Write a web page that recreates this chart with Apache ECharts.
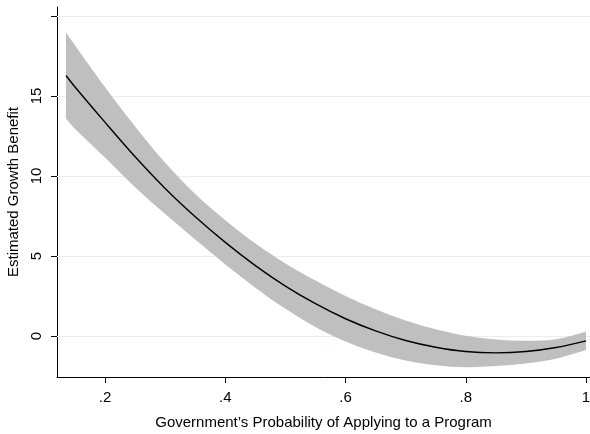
<!DOCTYPE html>
<html>
<head>
<meta charset="utf-8">
<script src="https://cdn.jsdelivr.net/npm/echarts@6/dist/echarts.min.js"></script>
<style>html,body{margin:0;padding:0;background:#fff}#c{width:590px;height:434px}</style>
</head>
<body>
<div id="c"></div>
<script>
var xs    = [0.135, 0.15, 0.2, 0.25, 0.3, 0.35, 0.4, 0.45, 0.5, 0.55, 0.6, 0.65, 0.7, 0.75, 0.8, 0.85, 0.9, 0.95, 1.0];
var fit   = [16.28, 15.56, 13.35, 11.2, 9.22, 7.45, 5.85, 4.4, 3.12, 2.02, 1.08, 0.32, -0.28, -0.7, -0.97, -1.05, -0.97, -0.72, -0.3];
var upper = [18.96, 18.16, 15.55, 13.1, 10.82, 8.87, 7.23, 5.78, 4.54, 3.47, 2.5, 1.67, 0.97, 0.42, 0.01, -0.22, -0.3, -0.2, 0.27];
var lower = [13.6, 12.96, 11.15, 9.3, 7.62, 6.03, 4.47, 3.02, 1.7, 0.57, -0.34, -1.03, -1.53, -1.82, -1.95, -1.88, -1.72, -1.42, -0.88];
var xTicks = [0.2, 0.4, 0.6, 0.8, 1.0];
var xTickLabels = ['.2', '.4', '.6', '.8', '1'];
var yTicks = [0, 5, 10, 15, 20];
var yLabelValues = [0, 5, 10, 15];
var xTitle = 'Government\u2019s Probability of Applying to a Program';
var yTitle = 'Estimated Growth Benefit';

var font = '"Liberation Sans", Arial, Helvetica, sans-serif';
var fitPts = xs.map(function(x, i){ return [x, fit[i]]; });

// Catmull-Rom spline through pixel points -> SVG path segment (rendering only)
function splineSeg(p, startWithMove){
  var d = startWithMove ? ('M' + p[0][0] + ',' + p[0][1]) : ('L' + p[0][0] + ',' + p[0][1]);
  for (var i = 0; i < p.length - 1; i++) {
    var p0 = p[i - 1] || p[i], p1 = p[i], p2 = p[i + 1], p3 = p[i + 2] || p[i + 1];
    var c1x = p1[0] + (p2[0] - p0[0]) / 6, c1y = p1[1] + (p2[1] - p0[1]) / 6;
    var c2x = p2[0] - (p3[0] - p1[0]) / 6, c2y = p2[1] - (p3[1] - p1[1]) / 6;
    d += 'C' + c1x + ',' + c1y + ' ' + c2x + ',' + c2y + ' ' + p2[0] + ',' + p2[1];
  }
  return d;
}

var chart = echarts.init(document.getElementById('c'), null, {renderer: 'canvas'});
chart.setOption({
  animation: false,
  backgroundColor: '#fff',
  grid: {left: 57, right: 0, top: 7, bottom: 57, containLabel: false, outerBoundsMode: 'none'},
  xAxis: {
    type: 'value', min: 0.12, max: 1.0067,
    axisLine: {show: true, onZero: false, lineStyle: {color: '#000', width: 1}},
    axisTick: {show: true, length: 6, lineStyle: {color: '#000'}, customValues: xTicks},
    axisLabel: {customValues: xTicks, margin: 13, color: '#000', fontFamily: font, fontSize: 15,
      formatter: function(v){ var i = xTicks.findIndex(function(t){return Math.abs(t - v) < 1e-9;}); return i >= 0 ? xTickLabels[i] : ''; }},
    splitLine: {show: false},
    name: xTitle, nameLocation: 'middle', nameGap: 38,
    nameTextStyle: {color: '#000', fontFamily: font, fontSize: 15}
  },
  yAxis: {
    type: 'value', min: -2.56, max: 20.56,
    axisLine: {show: true, onZero: false, lineStyle: {color: '#000', width: 1}},
    axisTick: {show: true, length: 6, lineStyle: {color: '#000'}, customValues: yTicks},
    axisLabel: {customValues: yLabelValues, rotate: 90, margin: 13, color: '#000', fontFamily: font, fontSize: 15},
    splitLine: {show: false},
    name: yTitle, nameLocation: 'middle', nameGap: 35,
    nameTextStyle: {color: '#000', fontFamily: font, fontSize: 15}
  },
  series: [
    {
      type: 'custom', silent: true, z: 2,
      data: [0],
      renderItem: function(params, api){
        var up = xs.map(function(x, i){ return api.coord([x, upper[i]]); });
        var lo = xs.map(function(x, i){ return api.coord([x, lower[i]]); }).reverse();
        var d = splineSeg(up, true) + splineSeg(lo, false) + 'Z';
        return {type: 'path', shape: {pathData: d}, style: {fill: '#bfbfbf', stroke: null}};
      }
    },
    {
      type: 'line', data: fitPts, smooth: 0.3, symbol: 'none',
      lineStyle: {color: '#000', width: 1.4}, z: 3,
      markLine: {
        silent: true, symbol: 'none', label: {show: false}, z: 1,
        lineStyle: {color: '#e6f0f2', type: 'solid', width: 1},
        data: yTicks.map(function(v){ return {yAxis: v}; })
      }
    }
  ]
});
</script>
</body>
</html>
